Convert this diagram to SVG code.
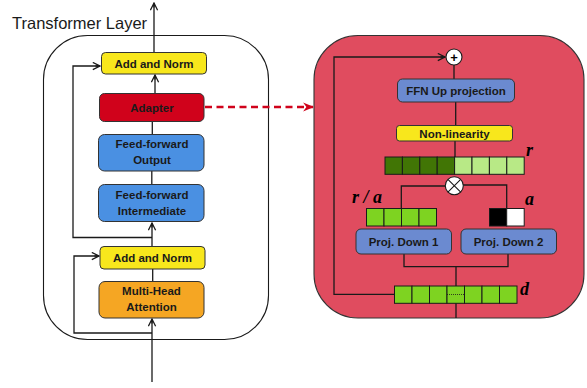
<svg xmlns="http://www.w3.org/2000/svg" width="587" height="388" viewBox="0 0 587 388">
<defs>
<style>
.lbl{font-family:"Liberation Sans",Arial,sans-serif;font-weight:bold;font-size:11.5px;fill:#1a1a1a;text-anchor:middle}
.ttl{font-family:"Liberation Sans",Arial,sans-serif;font-size:16.5px;fill:#1a1a1a}
.var{font-family:"Liberation Serif","Times New Roman",serif;font-weight:bold;font-style:italic;font-size:18px;fill:#000}
.box{stroke:#333;stroke-width:1}
.ln{fill:none;stroke:#1a1a1a;stroke-width:1.3}
.cell{stroke:#1a1a1a;stroke-width:1}
</style>
<marker id="open" viewBox="0 0 10 10" refX="9" refY="5" markerWidth="9" markerHeight="9" markerUnits="userSpaceOnUse" orient="auto">
<path d="M1,1 L9,5 L1,9 M9,5 L4,5" fill="none" stroke="#1a1a1a" stroke-width="1.4"/>
</marker>
<marker id="red" viewBox="0 0 10 10" refX="9" refY="5" markerWidth="11" markerHeight="11" markerUnits="userSpaceOnUse" orient="auto">
<path d="M0,1 L10,5 L0,9 L3,5 Z" fill="#d0021b"/>
</marker>
</defs>
<rect width="587" height="388" fill="#fff"/>

<text class="ttl" x="12" y="29">Transformer Layer</text>
<rect x="43.5" y="35.5" width="225" height="304" rx="44" fill="#fff" stroke="#1a1a1a" stroke-width="1.1"/>

<rect id="panel" x="314" y="35.5" width="270" height="282.5" rx="44" fill="#e04c5f" stroke="#333" stroke-width="1.1"/>

<g id="connectors">
<line class="ln" x1="154" y1="52" x2="154" y2="3" marker-end="url(#open)"/>
<line class="ln" x1="155" y1="93" x2="155" y2="75" marker-end="url(#open)"/>
<line class="ln" x1="152.3" y1="121" x2="152.3" y2="134"/>
<line class="ln" x1="151.8" y1="171" x2="151.8" y2="184"/>
<line class="ln" x1="152" y1="246" x2="152" y2="223" marker-end="url(#open)"/>
<line class="ln" x1="152.7" y1="269" x2="152.7" y2="281"/>
<line class="ln" x1="152" y1="382" x2="152" y2="319" marker-end="url(#open)"/>
<polyline class="ln" points="152,333 74,333 74,256 99,256" marker-end="url(#open)"/>
<polyline class="ln" points="152,237.5 73,237.5 73,66 100,66" marker-end="url(#open)"/>
<line x1="205" y1="107" x2="313" y2="107" stroke="#d0021b" stroke-width="2.6" stroke-dasharray="7,4.5" marker-end="url(#red)"/>

<polyline class="ln" points="394,294.3 334,294.3 334,57 445,57" marker-end="url(#open)"/>
<line class="ln" x1="454" y1="65" x2="454" y2="79"/>
<line class="ln" x1="455.7" y1="102" x2="455.7" y2="125"/>
<line class="ln" x1="455" y1="141" x2="455" y2="157"/>
<polyline class="ln" points="445,186 401.3,186 401.3,208"/>
<polyline class="ln" points="463,185 506.7,185 506.7,208"/>
<polyline class="ln" points="404,254 404,266.7 508,266.7 508,254"/>
<line class="ln" x1="456" y1="266.7" x2="456" y2="286"/>
<line class="ln" x1="456" y1="303" x2="456" y2="318"/>
</g>

<g id="add-norm-top"><rect class="box" x="101.5" y="52.5" width="105" height="21.5" rx="4" fill="#f8e71c"/><text class="lbl" x="154" y="67.5">Add and Norm</text></g>
<g id="adapter"><rect class="box" x="99.5" y="93.5" width="104.5" height="28" rx="5" fill="#d0021b"/><text class="lbl" x="152" y="111.5">Adapter</text></g>
<g id="ff-output"><rect class="box" x="98.5" y="134.5" width="105.5" height="36.5" rx="6" fill="#4a90e2"/><text class="lbl" x="152" y="147.5">Feed-forward</text><text class="lbl" x="152" y="163.5">Output</text></g>
<g id="ff-intermediate"><rect class="box" x="98.5" y="184.5" width="105.5" height="37" rx="6" fill="#4a90e2"/><text class="lbl" x="152" y="198.5">Feed-forward</text><text class="lbl" x="152" y="215">Intermediate</text></g>
<g id="add-norm-bottom"><rect class="box" x="100" y="246.5" width="105" height="22.5" rx="4" fill="#f8e71c"/><text class="lbl" x="152.5" y="262">Add and Norm</text></g>
<g id="mha"><rect class="box" x="99" y="281.5" width="105" height="36.5" rx="6" fill="#f5a623"/><text class="lbl" x="151.5" y="295">Multi-Head</text><text class="lbl" x="151.5" y="311">Attention</text></g>

<g id="plus"><circle cx="454" cy="57" r="8" fill="#fff" stroke="#1a1a1a" stroke-width="1.1"/><text x="454" y="61.5" text-anchor="middle" font-family="'Liberation Sans',Arial,sans-serif" font-weight="bold" font-size="13" fill="#000">+</text></g>
<g id="ffn-up"><rect class="box" x="397.5" y="79" width="117" height="23" rx="5" fill="#6b8ad0"/><text class="lbl" x="456" y="95">FFN Up projection</text></g>
<g id="nonlin"><rect class="box" x="396.5" y="125.5" width="116" height="15.5" rx="3" fill="#f8e71c"/><text class="lbl" x="454.5" y="137.5" font-size="11">Non-linearity</text></g>

<g id="r-vector">
<rect class="cell" x="385" y="157" width="17.4" height="17.3" fill="#417505"/>
<rect class="cell" x="402.4" y="157" width="17.4" height="17.3" fill="#417505"/>
<rect class="cell" x="419.8" y="157" width="17.4" height="17.3" fill="#417505"/>
<rect class="cell" x="437.2" y="157" width="17.4" height="17.3" fill="#417505"/>
<rect class="cell" x="454.6" y="157" width="17.4" height="17.3" fill="#b8e986"/>
<rect class="cell" x="472" y="157" width="17.4" height="17.3" fill="#b8e986"/>
<rect class="cell" x="489.4" y="157" width="17.4" height="17.3" fill="#b8e986"/>
<rect class="cell" x="506.8" y="157" width="17.4" height="17.3" fill="#b8e986"/>
<text class="var" x="526" y="156">r</text>
</g>

<g id="otimes"><circle cx="454.3" cy="185.7" r="9" fill="#fff" stroke="#1a1a1a" stroke-width="1.1"/><path d="M447.9,179.3 L460.7,192.1 M460.7,179.3 L447.9,192.1" stroke="#1a1a1a" stroke-width="1.1"/></g>

<g id="ra-vector">
<rect class="cell" x="366.5" y="208.5" width="17.5" height="17.5" fill="#7ed321"/>
<rect class="cell" x="384" y="208.5" width="17.5" height="17.5" fill="#7ed321"/>
<rect class="cell" x="401.5" y="208.5" width="17.5" height="17.5" fill="#7ed321"/>
<rect class="cell" x="419" y="208.5" width="17.5" height="17.5" fill="#7ed321"/>
<text class="var" x="352" y="203">r / a</text>
</g>
<g id="a-vector">
<rect class="cell" x="489.5" y="208.5" width="17.2" height="17.5" fill="#000"/>
<rect class="cell" x="506.7" y="208.5" width="17.5" height="17.5" fill="#fff"/>
<text class="var" x="525" y="205">a</text>
</g>

<g id="proj-down-1"><rect class="box" x="356" y="229" width="95.5" height="25" rx="5" fill="#6b8ad0"/><text class="lbl" x="403.5" y="245.5">Proj. Down 1</text></g>
<g id="proj-down-2"><rect class="box" x="461" y="229" width="95.5" height="25" rx="5" fill="#6b8ad0"/><text class="lbl" x="508.5" y="245.5">Proj. Down 2</text></g>

<g id="d-vector">
<rect class="cell" x="394.5" y="286" width="17.5" height="17.3" fill="#7ed321"/>
<rect class="cell" x="412" y="286" width="17.5" height="17.3" fill="#7ed321"/>
<rect class="cell" x="429.5" y="286" width="17.5" height="17.3" fill="#7ed321"/>
<rect class="cell" x="447" y="286" width="17.5" height="17.3" fill="#7ed321"/>
<rect class="cell" x="464.5" y="286" width="17.5" height="17.3" fill="#7ed321"/>
<rect class="cell" x="482" y="286" width="17.5" height="17.3" fill="#7ed321"/>
<rect class="cell" x="499.5" y="286" width="17.5" height="17.3" fill="#7ed321"/>
<line x1="447" y1="294.5" x2="464.5" y2="294.5" stroke="#1a1a1a" stroke-width="0.8" stroke-dasharray="1,1"/>
<text class="var" x="520" y="295">d</text>
</g>
</svg>
